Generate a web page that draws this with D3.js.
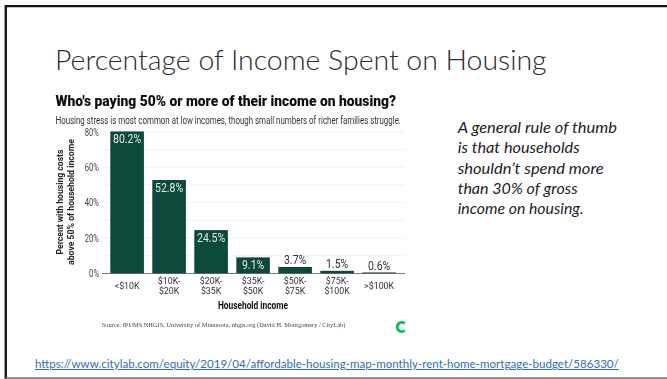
<!DOCTYPE html>
<html>
<head>
<meta charset="utf-8">
<script src="https://cdn.jsdelivr.net/npm/d3@7"></script>
<style>
html,body{margin:0;padding:0;background:#fff;}
svg{display:block;}
</style>
</head>
<body>
<svg id="slide" width="667" height="379"></svg>
<script>
const categories = [["<$10K"],["$10K-","$20K"],["$20K-","$35K"],["$35K-","$50K"],["$50K-","$75K"],["$75K-","$100K"],[">$100K"]];
const shares = [80.2,52.8,24.5,9.1,3.7,1.5,0.6];
const shareLabels = ["80.2%","52.8%","24.5%","9.1%","3.7%","1.5%","0.6%"];
const majorTicks = [0,20,40,60,80];
const minorTicks = [10,30,50,70];
const noteLines = ["A general rule of thumb","is that households","shouldn’t spend more","than 30% of gross","income on housing."];
const noteWidths = [159.5,122,146,120,126];
const slideTitle = "Percentage of Income Spent on Housing";
const chartTitle = "Who's paying 50% or more of their income on housing?";
const chartSubtitle = "Housing stress is most common at low incomes, though small numbers of richer families struggle.";
const yAxisLines = ["Percent with housing costs","above 50% of household income"];
const yAxisWidths = [105,126];
const xAxisTitle = "Household income";
const sourceText = "Source: IPUMS NHGIS, University of Minnesota, nhgis.org (David H. Montgomery / CityLab)";
const linkText = "https://www.citylab.com/equity/2019/04/affordable-housing-map-monthly-rent-home-mortgage-budget/586330/";

const narrow = "Roboto,sans-serif";
const slideFont = "Lato,sans-serif";
const green = "#0e4a3b";

const svg = d3.select("#slide");

// Squeeze text horizontally about its own anchor by a given factor
function condense(sel, factor){
  return sel.attr("transform", function(){
    const ax = +this.getAttribute("x") || 0;
    return `translate(${ax},0)scale(${factor},1)translate(${-ax},0)`;
  });
}
// Squeeze or stretch text so it spans the given width
function fit(sel, width){
  return sel.attr("transform", function(d,i){
    const ax = +this.getAttribute("x") || 0;
    const w = typeof width === "function" ? width(d,i) : width;
    return `translate(${ax},0)scale(${w/this.getComputedTextLength()},1)translate(${-ax},0)`;
  });
}

// Slide border: heavy on the top and left, thin grey along the bottom
svg.append("line").attr("x1",5).attr("x2",667).attr("y1",6.2).attr("y2",6.2).attr("stroke","#151515").attr("stroke-width",2.2);
svg.append("line").attr("x1",5.8).attr("x2",5.8).attr("y1",5).attr("y2",379).attr("stroke","#151515").attr("stroke-width",2.4);
svg.append("line").attr("x1",5).attr("x2",667).attr("y1",378).attr("y2",378).attr("stroke","#6a6a6a").attr("stroke-width",1.4);

fit(svg.append("text").attr("x",55).attr("y",70.5).attr("font-family",slideFont).attr("font-weight",300)
  .attr("font-size",26.5).attr("fill","#2b2b2b").text(slideTitle), 492);

// Chart
const soft = svg.append("defs").append("filter").attr("id","soft");
soft.append("feGaussianBlur").attr("stdDeviation",0.35);
const chart = svg.append("g").attr("filter","url(#soft)");

const x = d3.scaleBand().domain(d3.range(shares.length)).range([106.1,400.1]).paddingInner(0.2).paddingOuter(0.1);
const y = d3.scaleLinear().domain([0,80]).range([273.5,131.8]);

fit(chart.append("text").attr("x",55.5).attr("y",106).attr("font-family",narrow).attr("font-weight",900)
  .attr("font-size",14.5).attr("fill","#111").text(chartTitle), 341);
fit(chart.append("text").attr("x",55.5).attr("y",124).attr("font-family",narrow)
  .attr("font-size",10.6).attr("fill","#333").text(chartSubtitle), 345.5);

chart.append("g").selectAll("line").data(majorTicks.concat(minorTicks).filter(d=>d>0)).join("line")
  .attr("x1",102).attr("x2",405).attr("y1",d=>y(d)).attr("y2",d=>y(d))
  .attr("stroke","#eeeeee").attr("stroke-width",0.8);

const yAxis = d3.axisLeft(y).tickValues(majorTicks).tickSize(0).tickPadding(0).tickFormat(d=>d+"%");
const yG = chart.append("g").attr("transform","translate(99,0)").call(yAxis);
yG.select(".domain").remove();
condense(yG.selectAll("text").attr("font-family",narrow).attr("font-size",10.4).attr("fill","#444"), 0.74);

chart.selectAll("rect.bar").data(shares).join("rect").attr("class","bar")
  .attr("x",(d,i)=>x(i)).attr("width",x.bandwidth())
  .attr("y",d=>y(d)).attr("height",d=>y(0)-y(d)).attr("fill",green);

chart.append("line").attr("x1",102).attr("x2",405).attr("y1",y(0)).attr("y2",y(0))
  .attr("stroke","#555").attr("stroke-width",0.8);

// Value labels sit inside the taller bars and just above the short ones
condense(chart.selectAll("text.value").data(shares).join("text").attr("class","value")
  .attr("x",(d,i)=>x(i)+x.bandwidth()/2)
  .attr("y",d=>d>5?y(d)+11.8:y(d)-2.6)
  .attr("text-anchor","middle").attr("font-family",narrow).attr("font-size",12.8)
  .attr("fill",d=>d>5?"#dcebe4":"#333").text((d,i)=>shareLabels[i]), 0.82);

// Category labels, one or two lines each
const catText = chart.append("g").selectAll("text").data(categories).join("text")
  .attr("x",(d,i)=>x(i)+x.bandwidth()/2)
  .attr("y",d=>d.length===1?289:284)
  .attr("text-anchor","middle").attr("font-family",narrow).attr("font-size",9.6).attr("fill","#333");
catText.each(function(lines,i){
  d3.select(this).selectAll("tspan").data(lines).join("tspan")
    .attr("x",x(i)+x.bandwidth()/2).attr("dy",(d,j)=>j?10.3:0).text(d=>d);
});
condense(catText, 0.92);

const yTitle = chart.append("g").attr("transform","translate(62.7,202)rotate(-90)");
yAxisLines.forEach((line,j)=>{
  fit(yTitle.append("text").attr("x",0).attr("y",j*11.3).attr("text-anchor","middle").attr("font-family",narrow)
    .attr("font-weight",700).attr("font-size",9.6).attr("fill","#222").text(line), yAxisWidths[j]);
});

fit(chart.append("text").attr("x",218).attr("y",309.3).attr("font-family",narrow)
  .attr("font-weight",700).attr("font-size",10.4).attr("fill","#111").text(xAxisTitle), 70);
fit(chart.append("text").attr("x",101.7).attr("y",326.7).attr("font-family","'Liberation Serif',serif")
  .attr("font-size",6.8).attr("fill","#444").text(sourceText), 244);

// CityLab mark: a green "C" opening to the right
const arc = d3.arc().innerRadius(3).outerRadius(6).startAngle(0.85).endAngle(Math.PI*2-0.85);
chart.append("path").attr("d",arc()).attr("transform","translate(401.7,327)rotate(90)").attr("fill","#1fb866");

// Side note
const note = svg.append("g");
fit(note.selectAll("text").data(noteLines).join("text")
  .attr("x",457.7).attr("y",(d,i)=>133+i*20.3).attr("font-family",slideFont).attr("font-style","italic")
  .attr("font-size",14.8).attr("fill","#222").text(d=>d), (d,i)=>noteWidths[i]);

// Reference link
fit(svg.append("text").attr("x",35).attr("y",368).attr("font-family",slideFont).attr("font-size",10.8)
  .attr("fill","#2f6db8").attr("text-decoration","underline").text(linkText), 584);
</script>
</body>
</html>
